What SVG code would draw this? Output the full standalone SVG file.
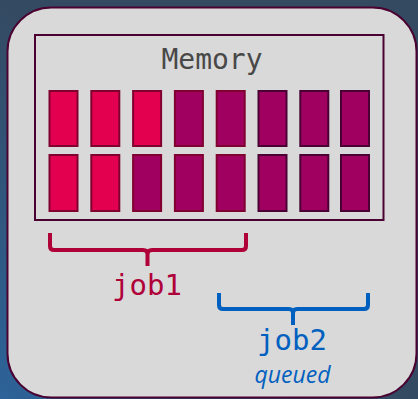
<svg xmlns="http://www.w3.org/2000/svg" width="418" height="399" viewBox="0 0 418 399">
  <defs>
    <linearGradient id="bg" x1="1" y1="0" x2="0" y2="1">
      <stop offset="0" stop-color="#344a60"/>
      <stop offset="0.5" stop-color="#344a62"/>
      <stop offset="1" stop-color="#2d6399"/>
    </linearGradient>
    <style>
      .mono { font-family: "DejaVu Sans Mono", "Liberation Mono", monospace; font-size: 29px; text-anchor: middle; }
      .hot { fill: #e3004f; stroke: #800030; stroke-width: 2; }
      .used { fill: #a0005f; stroke: #800030; stroke-width: 2; }
      .usedd { fill: #a0005f; stroke: #4a0035; stroke-width: 2; }
      .brace { fill: none; stroke-width: 4; stroke-linecap: butt; stroke-linejoin: round; }
    </style>
  </defs>
  <rect x="0" y="0" width="418" height="399" fill="url(#bg)"/>
  <g id="machine">
    <rect x="7.5" y="7.5" width="409" height="390" rx="44" fill="#d9d9d9" stroke="#4a0030" stroke-width="2"/>
  </g>
  <g id="memory">
    <rect x="35" y="35" width="348.5" height="185" fill="#d9d9d9" stroke="#4a0030" stroke-width="2"/>
    <text class="mono" x="212" y="69" fill="#484848" style="font-size:28px">Memory</text>
    <g id="cells">
      <rect class="hot" x="49.5" y="91" width="28" height="55"/>
      <rect class="hot" x="91.3" y="91" width="28" height="55"/>
      <rect class="hot" x="133.1" y="91" width="28" height="55"/>
      <rect class="used" x="174.9" y="91" width="28" height="55"/>
      <rect class="used" x="216.7" y="91" width="28" height="55"/>
      <rect class="usedd" x="258.5" y="91" width="28" height="55"/>
      <rect class="usedd" x="300.3" y="91" width="28" height="55"/>
      <rect class="usedd" x="341" y="91" width="28" height="55"/>
      <rect class="hot" x="49.5" y="155" width="28" height="56"/>
      <rect class="hot" x="91.3" y="155" width="28" height="56"/>
      <rect class="used" x="133.1" y="155" width="28" height="56"/>
      <rect class="used" x="174.9" y="155" width="28" height="56"/>
      <rect class="used" x="216.7" y="155" width="28" height="56"/>
      <rect class="usedd" x="258.5" y="155" width="28" height="56"/>
      <rect class="usedd" x="300.3" y="155" width="28" height="56"/>
      <rect class="usedd" x="341" y="155" width="28" height="56"/>
    </g>
  </g>
  <g id="connectors">
    <path class="brace" stroke="#b0003a" d="M50,233 L50,246 Q50,250 54,250 L143,250 Q147.5,250 147.5,254 L147.5,266 M147.5,254 Q147.5,250 152,250 L242,250 Q246,250 246,246 L246,233"/>
    <path class="brace" stroke="#0060c0" d="M219,293 L219,305 Q219,309 223,309 L289,309 Q293,309 293,313 L293,325 M293,313 Q293,309 297,309 L364,309 Q368,309 368,305 L368,293"/>
  </g>
  <g id="job1">
    <text class="mono" x="147" y="295" fill="#b0003a">job1</text>
  </g>
  <g id="job2">
    <text class="mono" x="292" y="350" fill="#0060c0">job2</text>
    <text x="292.5" y="383" fill="#0060c0" font-family="Open Sans, sans-serif" font-style="italic" font-size="23" text-anchor="middle">queued</text>
  </g>
</svg>
